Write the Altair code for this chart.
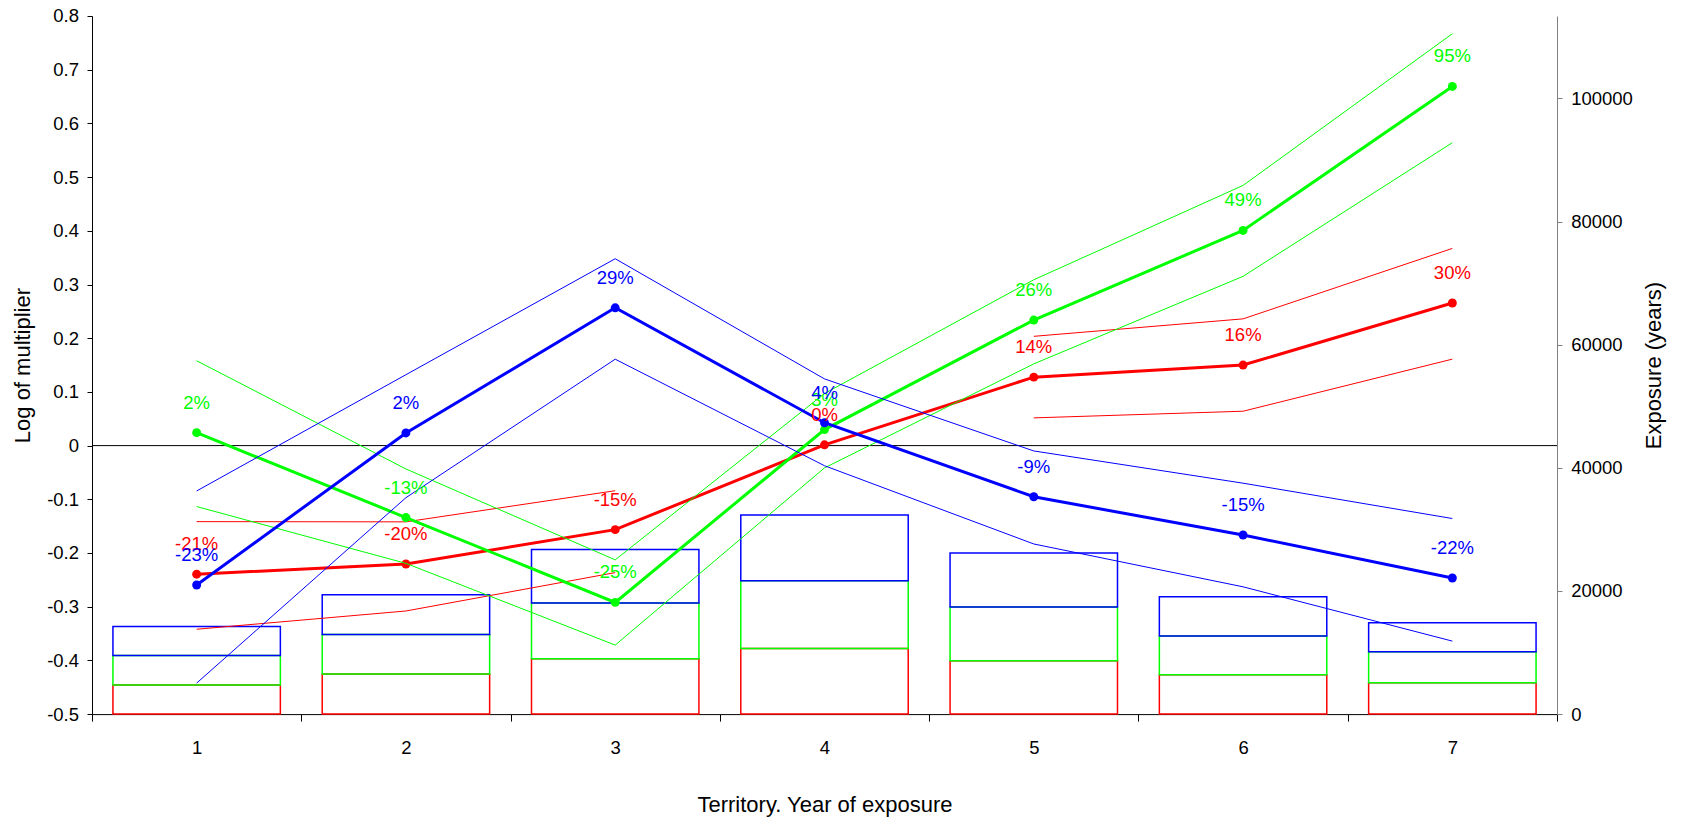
import altair as alt
import pandas as pd

# ---------------- data ----------------
categories = ["1", "2", "3", "4", "5", "6", "7"]
series_names = ["Red", "Green", "Blue"]
series_colors = ["#FF0000", "#00FF00", "#0000FF"]

# log of multiplier (estimate, upper and lower bounds)
red_est = [-0.2395, -0.2205, -0.1565, 0.0015, 0.1275, 0.1500, 0.2655]
red_hi = [-0.1416, -0.1420, -0.0840, None, 0.2035, 0.2360, 0.3672]
red_lo = [-0.3420, -0.3080, -0.2365, None, 0.0516, 0.0640, 0.1610]

green_est = [0.0240, -0.1340, -0.2920, 0.0298, 0.2338, 0.4007, 0.6688]
green_hi = [0.1580, -0.0435, -0.2128, 0.0970, 0.3088, 0.4845, 0.7670]
green_lo = [-0.1135, -0.2193, -0.3715, -0.0415, 0.1522, 0.3152, 0.5640]

blue_est = [-0.2596, 0.0236, 0.2566, 0.0426, -0.0953, -0.1665, -0.2465]
blue_hi = [-0.0845, 0.1320, 0.3480, 0.1242, -0.0100, -0.0700, -0.1358]
blue_lo = [-0.4423, -0.0970, 0.1609, -0.0375, -0.1832, -0.2630, -0.3641]

red_labels = ["-21%", "-20%", "-15%", "0%", "14%", "16%", "30%"]
green_labels = ["2%", "-13%", "-25%", "3%", "26%", "49%", "95%"]
blue_labels = ["-23%", "2%", "29%", "4%", "-9%", "-15%", "-22%"]

# exposure (years), stacked bars
red_exposure = [4720, 6500, 8990, 10670, 8670, 6390, 5080]
green_exposure = [4780, 6440, 9060, 11010, 8730, 6300, 5040]
blue_exposure = [4720, 6460, 8670, 10680, 8780, 6390, 4720]

left_ticks = [-0.5, -0.4, -0.3, -0.2, -0.1, 0, 0.1, 0.2, 0.3, 0.4, 0.5, 0.6, 0.7, 0.8]
right_ticks = [0, 20000, 40000, 60000, 80000, 100000]

est = {"Red": red_est, "Green": green_est, "Blue": blue_est}
hi = {"Red": red_hi, "Green": green_hi, "Blue": blue_hi}
lo = {"Red": red_lo, "Green": green_lo, "Blue": blue_lo}
labels = {"Red": red_labels, "Green": green_labels, "Blue": blue_labels}
expo = {"Red": red_exposure, "Green": green_exposure, "Blue": blue_exposure}

W = 1465
H = 698.1
FONT = "Liberation Sans"
LABEL_SIZE = 18.5
TITLE_SIZE = 22

# ---------------- tables ----------------
rows = []
base = [0] * len(categories)
for k, s in enumerate(series_names):
    for i, c in enumerate(categories):
        rows.append({"cat": c, "series": s, "sidx": k, "y0": base[i], "y1": base[i] + expo[s][i]})
    base = [base[i] + expo[s][i] for i in range(len(categories))]
bars_df = pd.DataFrame(rows)

common_axis = dict(
    grid=False,
    labelFont=FONT,
    labelFontSize=LABEL_SIZE,
    labelColor="black",
    titleFont=FONT,
    titleFontSize=TITLE_SIZE,
    titleFontWeight="normal",
    titleColor="black",
    domainWidth=1,
    tickWidth=1,
)

x_enc = alt.X(
    "cat:N",
    sort=categories,
    scale=alt.Scale(domain=categories, paddingInner=0, paddingOuter=0),
    axis=alt.Axis(
        title="Territory. Year of exposure",
        tickBand="extent",
        labelAngle=0,
        tickSize=7,
        labelPadding=17,
        domainColor="black",
        tickColor="black",
        titleX=W / 2,
        titleY=97,
        titleBaseline="alphabetic",
        titleAlign="center",
        **common_axis,
    ),
)

y_right = alt.Y(
    "y0:Q",
    scale=alt.Scale(domain=[0, 113400], nice=False, zero=True),
    axis=alt.Axis(
        title="Exposure (years)",
        orient="right",
        values=right_ticks,
        format="d",
        tickSize=5,
        labelPadding=8.7,
        domainColor="#808080",
        tickColor="#808080",
        titleAngle=270,
        titleX=104,
        titleY=H / 2,
        titleBaseline="alphabetic",
        titleAlign="center",
        **common_axis,
    ),
)

bars = alt.Chart(bars_df).mark_bar(
    width=alt.RelativeBandSize(0.8), fill="white", fillOpacity=0, strokeWidth=1.5
).encode(
    x=x_enc,
    y=y_right,
    y2="y1:Q",
    stroke=alt.Stroke("series:N", scale=alt.Scale(domain=series_names, range=series_colors), legend=None),
    order=alt.Order("sidx:Q"),
)

y_left_scale = alt.Scale(domain=[-0.5, 0.8], nice=False, zero=False)
y_left_axis = alt.Axis(
    title="Log of multiplier",
    orient="left",
    values=left_ticks,
    labelExpr="datum.value == 0 ? '0' : toString(round(datum.value * 10) / 10)",
    tickSize=5,
    labelPadding=8.5,
    domainColor="black",
    tickColor="black",
    titleAngle=270,
    titleX=-62.8,
    titleY=H / 2,
    titleBaseline="alphabetic",
    titleAlign="center",
    **common_axis,
)


def yl(field):
    return alt.Y(field, scale=y_left_scale, axis=y_left_axis)


zero_rule = alt.Chart(pd.DataFrame({"v": [0]})).mark_rule(color="black", strokeWidth=1).encode(y=yl("v:Q"))

layers = [zero_rule]
text_layers = []
for s, col in zip(series_names, series_colors):
    ci_rows = []
    for bound, vals in (("hi", hi[s]), ("lo", lo[s])):
        seg = 0
        for i, c in enumerate(categories):
            if vals[i] is None:
                seg += 1
                continue
            ci_rows.append({"cat": c, "grp": f"{bound}{seg}", "v": vals[i]})
    ci_df = pd.DataFrame(ci_rows)
    main_df = pd.DataFrame({"cat": categories, "v": est[s], "lab": labels[s]})

    ci = alt.Chart(ci_df).mark_line(color=col, strokeWidth=1).encode(x=x_enc, y=yl("v:Q"), detail="grp:N")
    line = alt.Chart(main_df).mark_line(color=col, strokeWidth=3).encode(x=x_enc, y=yl("v:Q"))
    pts = alt.Chart(main_df).mark_circle(color=col, size=80, opacity=1).encode(x=x_enc, y=yl("v:Q"))
    txt = alt.Chart(main_df).mark_text(
        color=col, fontSize=LABEL_SIZE, font=FONT, dy=-24, baseline="alphabetic", align="center"
    ).encode(x=x_enc, y=yl("v:Q"), text="lab:N")
    layers += [ci, line, pts]
    text_layers.append(txt)

inner = alt.layer(*(layers + text_layers))

chart = (
    alt.layer(bars, inner)
    .resolve_scale(y="independent")
    .properties(
        width=W,
        height=H,
        padding={"left": 84, "top": 8, "right": 115, "bottom": 106},
        autosize=alt.AutoSizeParams(type="none"),
    )
    .configure_view(stroke="transparent")
    .configure_axis(**common_axis)
)

chart.save("out.html", embed_options={"renderer": "svg", "actions": False})
